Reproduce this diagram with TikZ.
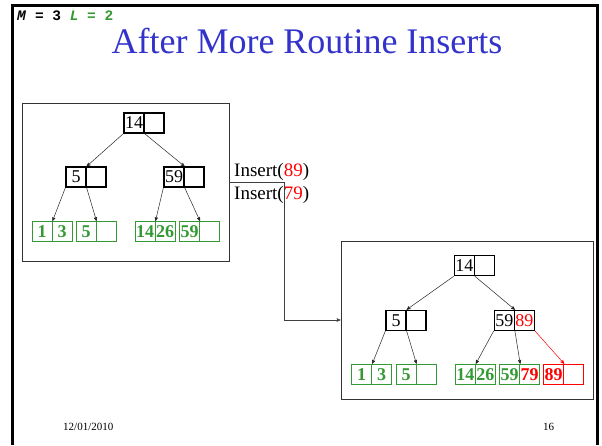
\documentclass[tikz,border=0pt]{standalone}
\usepackage{fontspec}
\setmainfont{Liberation Serif}
\setmonofont{Liberation Mono}
\usetikzlibrary{arrows,positioning,calc}

\definecolor{slideblue}{RGB}{51,51,204}
\definecolor{leafgreen}{RGB}{51,153,51}
\definecolor{newred}{RGB}{255,0,0}

\tikzset{
    key/.style={draw,line width=1.2pt,minimum width=20pt,minimum height=20pt,inner sep=0pt,font=\fontsize{18}{18}\selectfont},
    leaf/.style={key,draw=leafgreen,text=leafgreen,line width=1pt,font=\bfseries\fontsize{18}{18}\selectfont},
    newleaf/.style={leaf,draw=newred,text=newred},
    box/.style={draw,black!80,line width=0.9pt,minimum width=207pt,minimum height=158pt,inner sep=0pt},
    ptr/.style={->,line width=0.5pt,black!85}
}

\begin{document}
\begin{tikzpicture}[x=1pt,y=-1pt,>=stealth']
    \useasboundingbox (0,0) rectangle (602,445);
    \draw[line width=2.5pt] (12.5,445) -- (12.5,5.5) -- (597.5,5.5) -- (597.5,445);

    \node[anchor=base west,inner sep=0pt,font=\ttfamily\bfseries\fontsize{14.5}{15}\selectfont](params) at (17,20) {\textit{M} = 3 \textcolor{leafgreen}{\textit{L} = 2}};
    \node[anchor=base,inner sep=0pt,text=slideblue,font=\fontsize{36}{40}\selectfont](title) at (307,53) {After More Routine Inserts};

    % before the inserts
    \node[box](oldbox) at (125.5,182) {};

    \node[key](a14) at (134,123) {14};
    \node[key](a14e) at (154,123) {};
    \node[key](a5) at (76,177) {5};
    \node[key](a5e) at (96,177) {};
    \node[key](a59) at (174,177) {59};
    \node[key](a59e) at (194,177) {};

    \node[leaf](a1) at (42,231.5) {1};
    \node[leaf](a3) at (62,231.5) {3};
    \node[leaf](a5l) at (86,231.5) {5};
    \node[leaf](a5le) at (106,231.5) {};
    \node[leaf](a14l) at (145,231.5) {14};
    \node[leaf](a26) at (165,231.5) {26};
    \node[leaf](a59l) at (189.5,231.5) {59};
    \node[leaf](a59le) at (209.5,231.5) {};

    \draw[ptr] (a14.south west) -- (a5.north east);
    \draw[ptr] (a14.south east) -- (a59.north east);
    \draw[ptr] (a5.south west) -- (a1.north east);
    \draw[ptr] (a5.south east) -- (a5l.north east);
    \draw[ptr] (a59.south west) -- (a14l.north east);
    \draw[ptr] (a59.south east) -- (a59l.north east);

    % the inserts
    \node[anchor=base west,inner sep=0pt,font=\fontsize{19}{20}\selectfont](ins1) at (234,176) {Insert(\textcolor{newred}{89})};
    \node[anchor=base west,inner sep=0pt,font=\fontsize{19}{20}\selectfont](ins2) at (234,199.5) {Insert(\textcolor{newred}{79})};

    % after the inserts
    \node[box,minimum width=252pt](newbox) at (467,320) {};

    \coordinate (turn) at (284.5,182);
    \draw[ptr,black!75] (oldbox.east) -- (turn) |- (newbox.west);

    \node[key](b14) at (464.3,265.7) {14};
    \node[key](b14e) at (484.3,265.7) {};
    \node[key](b5) at (396,320.3) {5};
    \node[key](b5e) at (416,320.3) {};
    \node[key](b59) at (504.3,320.3) {59};
    \node[key,text=newred](b89) at (524.3,320.3) {89};

    \node[leaf](b1) at (361.7,374.3) {1};
    \node[leaf](b3) at (381.7,374.3) {3};
    \node[leaf](b5l) at (406,374.3) {5};
    \node[leaf](b5le) at (426,374.3) {};
    \node[leaf](b14l) at (465.3,374.3) {14};
    \node[leaf](b26) at (485.3,374.3) {26};
    \node[leaf](b59l) at (509.7,374.3) {59};
    \node[leaf,text=newred](b79) at (529.7,374.3) {79};
    \node[newleaf](b89l) at (553.7,374.3) {89};
    \node[newleaf](b89le) at (573.7,374.3) {};

    \draw[ptr] (b14.south west) -- (b5.north east);
    \draw[ptr] (b14.south east) -- (b59.north east);
    \draw[ptr] (b5.south west) -- (b1.north east);
    \draw[ptr] (b5.south east) -- (b5l.north east);
    \draw[ptr] (b59.south west) -- (b14l.north east);
    \draw[ptr] (b59.south east) -- (b59l.north east);
    \draw[ptr,newred] (b89.south east) -- (b89l.north east);

    \node[anchor=base west,inner sep=0pt,font=\fontsize{11}{12}\selectfont](date) at (63,430) {12/01/2010};
    \node[anchor=base west,inner sep=0pt,font=\fontsize{11}{12}\selectfont](page) at (543,430) {16};
\end{tikzpicture}
\end{document}
